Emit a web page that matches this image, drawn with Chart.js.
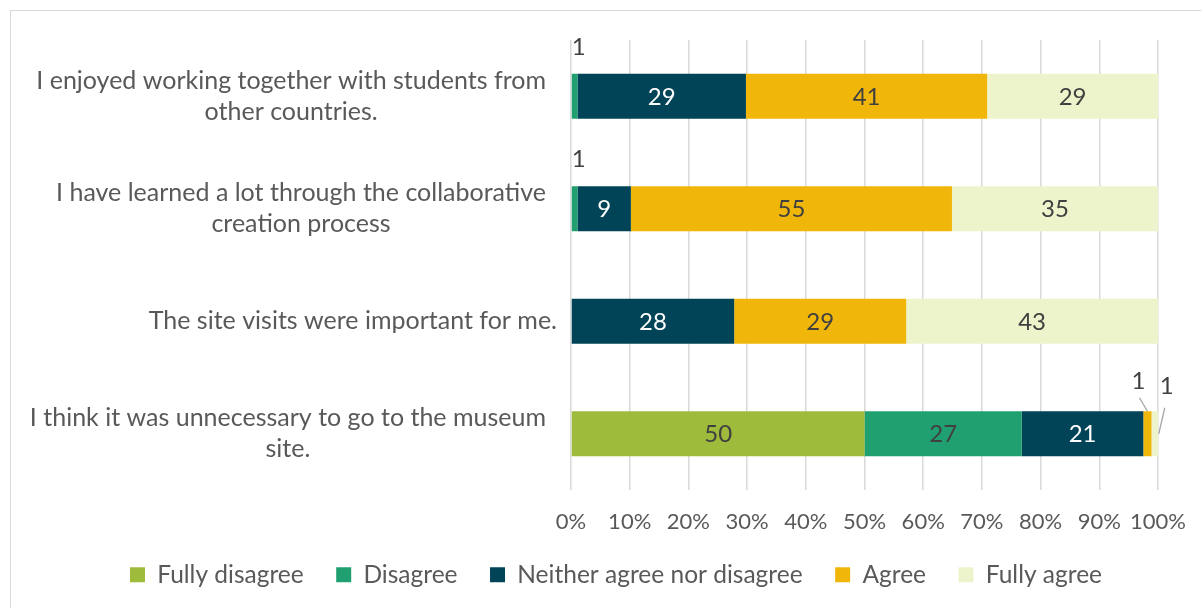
<!DOCTYPE html>
<html><head><meta charset="utf-8">
<script src="https://cdn.jsdelivr.net/npm/chart.js@4.4.0/dist/chart.umd.min.js"></script>
<style>
html,body{margin:0;padding:0;background:#fff;overflow:hidden;}
#wrap{position:absolute;left:0;top:0;width:1201px;height:608px;}
#frame{position:absolute;left:10px;top:10px;width:1220px;height:620px;border:1px solid #d9d9d9;box-sizing:border-box;}
canvas{position:absolute;left:0;top:0;}
</style></head>
<body>
<div id="wrap"><div id="frame"></div><canvas id="c" width="1201" height="608" style="width:1201px;height:608px"></canvas></div>
<script>
const categories = [
  ["I enjoyed working together with students from", "other countries."],
  ["I have learned a lot through the collaborative", "creation process"],
  ["The site visits were important for me."],
  ["I think it was unnecessary to go to the museum", "site."]
];
const seriesNames = ["Fully disagree", "Disagree", "Neither agree nor disagree", "Agree", "Fully agree"];
const fullyDisagree = [0, 0, 0, 50];
const disagree      = [1.1, 1.1, 0, 26.8];
const neither       = [28.7, 9.1, 27.8, 20.7];
const agree         = [41.1, 54.7, 29.3, 1.4];
const fullyAgree    = [29.1, 35.1, 42.9, 1.1];
const xTicks = [0, 10, 20, 30, 40, 50, 60, 70, 80, 90, 100];

const colors = ["#9fbb3b", "#20a070", "#014457", "#f0b70a", "#edf4cb"];
const labelColors = ["#404040", "#404040", "#ffffff", "#404040", "#404040"];
const FONT = "Lato";

const seriesData = [fullyDisagree, disagree, neither, agree, fullyAgree];

const catLabelPlugin = {
  id: 'catLabels',
  afterDraw(chart) {
    const ctx = chart.ctx;
    const ys = chart.scales.y;
    const left = chart.chartArea.left;
    ctx.save();
    ctx.font = "25px " + FONT;
    ctx.fillStyle = "#595959";
    ctx.textAlign = "center";
    ctx.textBaseline = "middle";
    const lh = 31;
    categories.forEach((lines, i) => {
      const cy = ys.getPixelForValue(i);
      const maxW = Math.max(...lines.map(l => ctx.measureText(l).width));
      const right = left - (lines.length > 1 ? 25 : 14);
      const cx = right - maxW / 2;
      const y0 = cy - (lines.length - 1) * lh / 2;
      lines.forEach((l, k) => ctx.fillText(l, cx, y0 + k * lh));
    });
    ctx.restore();
  }
};

const dataLabelPlugin = {
  id: 'dataLabels',
  afterDatasetsDraw(chart) {
    const ctx = chart.ctx;
    ctx.save();
    ctx.font = "24px " + FONT;
    ctx.textBaseline = "middle";
    chart.data.datasets.forEach((ds, d) => {
      const meta = chart.getDatasetMeta(d);
      meta.data.forEach((bar, i) => {
        const v = ds.data[i];
        if (!v) return;
        const txt = String(Math.round(v));
        const cx = (bar.x + bar.base) / 2;
        if (v >= 3) {
          ctx.fillStyle = labelColors[d];
          ctx.textAlign = "center";
          ctx.fillText(txt, cx, bar.y + 1);
        } else {
          ctx.fillStyle = "#404040";
          ctx.textAlign = "center";
          const h = bar.height;
          const nextSmall = (d + 1 < seriesData.length) && seriesData[d + 1][i] > 0 && seriesData[d + 1][i] < 3;
          const prevSmall = d > 0 && seriesData[d - 1][i] > 0 && seriesData[d - 1][i] < 3;
          if (nextSmall) {
            ctx.fillText(txt, cx - 9, bar.y - 52);
            ctx.strokeStyle = "#a6a6a6"; ctx.lineWidth = 1.3;
            ctx.beginPath(); ctx.moveTo(cx - 8, bar.y - 36); ctx.lineTo(cx, bar.y - h / 2); ctx.stroke();
          } else if (prevSmall) {
            ctx.fillText(txt, cx + 12, bar.y - 47);
            ctx.strokeStyle = "#a6a6a6"; ctx.lineWidth = 1.3;
            ctx.beginPath(); ctx.moveTo(cx + 10, bar.y - 26); ctx.lineTo(cx + 4, bar.y); ctx.stroke();
          } else {
            ctx.fillText(txt, cx + 4, bar.y - 49);
          }
        }
      });
    });
    ctx.restore();
  }
};

new Chart(document.getElementById('c'), {
  type: 'bar',
  data: {
    labels: categories,
    datasets: seriesNames.map((n, k) => ({
      label: n,
      data: seriesData[k],
      backgroundColor: colors[k],
      borderWidth: 0,
      categoryPercentage: 1,
      barPercentage: 0.4
    }))
  },
  options: {
    indexAxis: 'y',
    responsive: false,
    animation: false,
    devicePixelRatio: 1,
    layout: { padding: { left: 74, right: 43, top: 40, bottom: 11 } },
    plugins: {
      legend: {
        position: 'bottom',
        labels: {
          font: { family: FONT, size: 24.5 },
          color: "#595959",
          boxWidth: 15,
          boxHeight: 15,
          padding: 32.5
        }
      },
      tooltip: { enabled: false }
    },
    scales: {
      x: {
        stacked: true,
        min: 0, max: 100,
        afterBuildTicks(scale) { scale.ticks = xTicks.map(v => ({ value: v })); },
        afterFit(scale) { scale.height = 40; scale.paddingLeft = 0; scale.paddingRight = 0; },
        ticks: {
          callback: v => v + '%',
          font: { family: FONT, size: 22, lineHeight: 1 },
          color: "#595959",
          padding: 21,
          autoSkip: false,
          maxRotation: 0,
          minRotation: 0
        },
        grid: { color: "#d9d9d9", lineWidth: 1.5, drawTicks: false },
        border: { display: false }
      },
      y: {
        stacked: true,
        afterFit(scale) { scale.width = 497; },
        ticks: { display: false },
        grid: { display: false },
        border: { display: false }
      }
    }
  },
  plugins: [catLabelPlugin, dataLabelPlugin]
});
</script>
</body></html>
